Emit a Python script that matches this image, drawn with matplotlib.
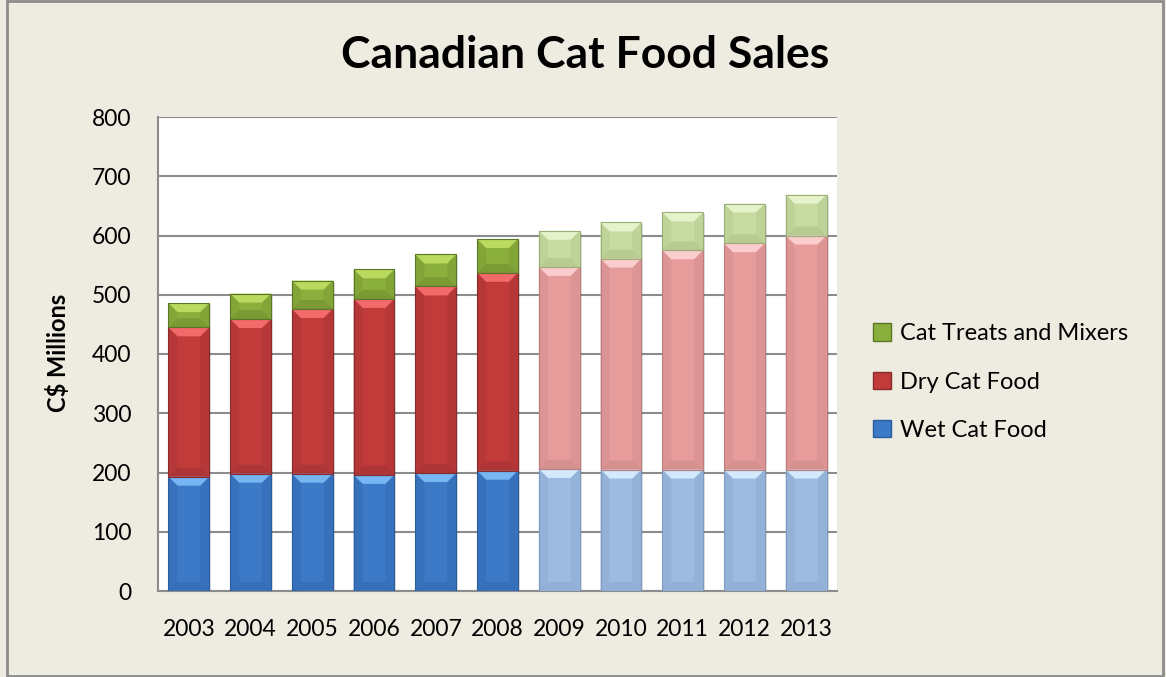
import numpy as np
import matplotlib.pyplot as plt
from matplotlib.patches import Polygon, Rectangle, Patch

plt.rcParams['font.family'] = ['Lato', 'DejaVu Sans']

years = ['2003', '2004', '2005', '2006', '2007', '2008',
         '2009', '2010', '2011', '2012', '2013']
wet = [193, 198, 198, 196, 199, 203, 206, 205, 205, 205, 205]
dry = [252, 261, 278, 297, 315, 334, 341, 356, 370, 382, 395]
treats = [41, 43, 48, 50, 54, 57, 61, 61, 64, 67, 69]
n_actual = 6  # 2003-2008 are actuals, the rest forecasts

# (body, top bevel, bottom bevel, side) for actual and forecast shades
wet_cols = [('#3C79C6', '#76B6F2', '#2B5C9C', '#3771BC'),
            ('#9DBBE1', '#D2EAFB', '#7E9BBF', '#94B2D8')]
dry_cols = [('#C13B3B', '#F46A6A', '#8A2A2A', '#B63737'),
            ('#E59C9B', '#FBCDCD', '#B97D7D', '#DC9494')]
trt_cols = [('#8BAF3C', '#B9DA5E', '#5B7726', '#83A538'),
            ('#C8DCA1', '#E6F2CA', '#9BAF78', '#BED398')]

W, H = 1166, 677
fig = plt.figure(figsize=(W / 100, H / 100), dpi=100, facecolor='#EEECE1')
ax = fig.add_axes([158 / W, 86 / H, 679 / W, 474 / H])
ax.set_facecolor('white')

ax.set_xlim(-0.5, len(years) - 0.5)
ax.set_ylim(0, 800)
ax.set_yticks(range(0, 801, 100))
ax.yaxis.grid(True, color='#8C8C8C', lw=1.5)
ax.set_axisbelow(True)
for s in ['top', 'right']:
    ax.spines[s].set_visible(False)
for s in ['left', 'bottom']:
    ax.spines[s].set_color('#8C8C8C')
    ax.spines[s].set_linewidth(1.5)

# pixel sizes in data units, for the bevels
px_x = len(years) / 679
px_y = 800 / 474
bev = 9

x = np.arange(len(years))
width = 0.66


def draw_segment(xc, y0, h, cols):
    body, top, bot, side = cols
    x0, x1 = xc - width / 2, xc + width / 2
    y1 = y0 + h
    dx, dy = bev * px_x, bev * px_y
    # soft shadow
    ax.add_patch(Rectangle((x0 + 2 * px_x, y0 - 2 * px_y), width, h,
                           facecolor='black', alpha=0.12, lw=0, zorder=2))
    ax.add_patch(Rectangle((x0, y0), width, h, facecolor=body, lw=0, zorder=3))
    ax.add_patch(Polygon([(x0, y0), (x0 + dx, y0 + dy), (x0 + dx, y1 - dy), (x0, y1)],
                         facecolor=side, lw=0, zorder=3.1))
    ax.add_patch(Polygon([(x1, y0), (x1 - dx, y0 + dy), (x1 - dx, y1 - dy), (x1, y1)],
                         facecolor=side, lw=0, zorder=3.1))
    ax.add_patch(Polygon([(x0, y0), (x1, y0), (x1 - dx, y0 + dy), (x0 + dx, y0 + dy)],
                         facecolor=bot, lw=0, alpha=0.35, zorder=3.2))
    ax.add_patch(Polygon([(x0, y1), (x1, y1), (x1 - dx, y1 - dy), (x0 + dx, y1 - dy)],
                         facecolor=top, lw=0, zorder=3.2))
    ax.add_patch(Rectangle((x0, y0), width, h, facecolor='none',
                           edgecolor=bot, lw=0.8, zorder=3.3))


for i in range(len(years)):
    k = 0 if i < n_actual else 1
    draw_segment(x[i], 0, wet[i], wet_cols[k])
    draw_segment(x[i], wet[i], dry[i], dry_cols[k])
    draw_segment(x[i], wet[i] + dry[i], treats[i], trt_cols[k])

ax.set_xticks(x)
ax.set_xticklabels(years)
ax.tick_params(axis='both', length=0, labelsize=16.5, colors='black')
ax.tick_params(axis='x', pad=20)
ax.tick_params(axis='y', pad=19)

fig.text(58 / W, 1 - 353 / H, 'C$ Millions', rotation=90, ha='center', va='center',
         fontsize=17, fontweight='bold')
fig.text(585 / W, 1 - 55 / H, 'Canadian Cat Food Sales', ha='center', va='center',
         fontsize=32, fontweight='bold')

handles = [Patch(facecolor=trt_cols[0][0], edgecolor=trt_cols[0][2]),
           Patch(facecolor=dry_cols[0][0], edgecolor=dry_cols[0][2]),
           Patch(facecolor=wet_cols[0][0], edgecolor=wet_cols[0][2])]
fig.legend(handles, ['Cat Treats and Mixers', 'Dry Cat Food', 'Wet Cat Food'],
           loc='center left', bbox_to_anchor=(852 / W, 1 - 382 / H), frameon=False,
           fontsize=17, handlelength=0.75, handleheight=0.75, handletextpad=0.4,
           labelspacing=1.15)

# chart border
fig.patches.append(Rectangle((7 / W, 1 / H), 1156 / W, 675 / H, transform=fig.transFigure,
                             facecolor='none', edgecolor='#8C8C8C', lw=2))

fig.savefig('out.png', dpi=100, facecolor=fig.get_facecolor())
